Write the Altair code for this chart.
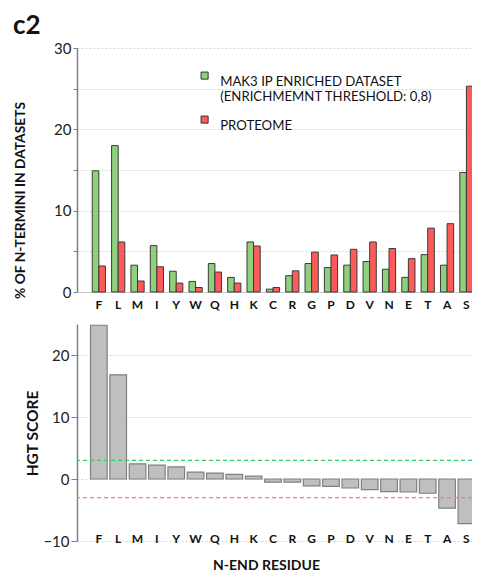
import altair as alt
import pandas as pd

residues = ["F", "L", "M", "I", "Y", "W", "Q", "H", "K", "C", "R", "G", "P", "D", "V", "N", "E", "T", "A", "S"]
mak3_pct = [14.9, 18.0, 3.3, 5.7, 2.55, 1.3, 3.5, 1.8, 6.15, 0.35, 2.0, 3.5, 3.0, 3.3, 3.75, 2.8, 1.8, 4.6, 3.3, 14.7]
proteome_pct = [3.2, 6.15, 1.35, 3.1, 1.1, 0.55, 2.45, 1.1, 5.65, 0.55, 2.6, 4.9, 4.55, 5.25, 6.15, 5.35, 4.1, 7.85, 8.4, 25.3]
hgt_score = [24.8, 16.8, 2.45, 2.25, 1.95, 1.1, 0.95, 0.75, 0.45, -0.5, -0.5, -1.1, -1.2, -1.45, -1.7, -2.05, -2.1, -2.3, -4.7, -7.2]
thresholds = [3, -3]
threshold_colors = ["#2ecc71", "#ff7a7a"]
series = ["Mak3", "Proteome"]
series_colors = ["#8fd07c", "#ff5a5a"]

FONT = "Lato"

df_top = pd.DataFrame({
    "Residue": residues * 2,
    "Dataset": [series[0]] * len(residues) + [series[1]] * len(residues),
    "Value": mak3_pct + proteome_pct,
})
df_bot = pd.DataFrame({"Residue": residues, "HGT": hgt_score})
df_thr = pd.DataFrame({"t": thresholds, "c": threshold_colors})

W = 402

def xscale():
    return alt.Scale(paddingInner=0.14, paddingOuter=0.46, align=0.76)

grid_kw = dict(grid=True, gridColor="#d5d5d5", gridDash=[2, 2], gridWidth=1,
               domainColor="#808080", domainWidth=1.5, tickColor="#808080",
               labelFont=FONT, labelFontSize=15, labelColor="#222222",
               titleFont=FONT, titleFontWeight="bold", titleColor="#111111")

top = alt.Chart(df_top).mark_bar(stroke="#3a3a3a", strokeWidth=1).encode(
    x=alt.X("Residue:N", sort=residues, scale=xscale(),
            axis=alt.Axis(title=None, labelAngle=0, ticks=False, tickSize=0, domain=True,
                          domainColor="#c8c8c8", labelPadding=7, labelFont=FONT,
                          labelFontWeight="bold", labelFontSize=12, labelColor="#111111",
                          labelBaseline="top", grid=False)),
    xOffset=alt.XOffset("Dataset:N", sort=series, scale=alt.Scale(paddingOuter=0.26, paddingInner=0)),
    y=alt.Y("Value:Q", scale=alt.Scale(domain=[0, 30], nice=False),
            axis=alt.Axis(values=list(range(0, 31, 5)),
                          labelExpr="datum.value % 10 == 0 ? datum.label : ''",
                          title="% OF N-TERMINI IN DATASETS", titleX=-57, titleY=152,
                          titleFontSize=13.8,
                          titleBaseline="middle", tickSize=4, labelPadding=2, **grid_kw)),
    color=alt.Color("Dataset:N", sort=series,
                    scale=alt.Scale(domain=series, range=series_colors),
                    legend=alt.Legend(title=None, orient="none", legendX=121, legendY=21,
                                      symbolType="square", symbolSize=50,
                                      symbolStrokeColor="#333333", symbolStrokeWidth=1,
                                      labelFont=FONT, labelFontSize=13.2, labelColor="#111111",
                                      labelBaseline="top", labelOffset=9, labelLimit=0,
                                      rowPadding=10,
                                      labelExpr="datum.label == 'Mak3' ? ['MAK3 IP ENRICHED DATASET', '(ENRICHMEMNT THRESHOLD: 0,8)'] : 'PROTEOME'")),
).properties(width=W, height=244)

bars = alt.Chart(df_bot).mark_bar(fill="#bfbfbf", stroke="#808080", strokeWidth=1.2).encode(
    x=alt.X("Residue:N", sort=residues, scale=xscale(),
            axis=alt.Axis(title="N-END RESIDUE", labelAngle=0, ticks=False, tickSize=0, domain=False,
                          labelPadding=-3, labelBaseline="middle", labelFont=FONT,
                          labelFontWeight="bold", labelFontSize=12, labelColor="#111111",
                          titleFont=FONT, titleFontSize=14, titleFontWeight="bold",
                          titleColor="#111111", titleX=189, titleY=24, titleBaseline="middle",
                          grid=False)),
    y=alt.Y("HGT:Q", scale=alt.Scale(domain=[-10, 25], nice=False),
            axis=alt.Axis(values=list(range(-10, 26, 5)),
                          labelExpr="datum.value % 10 == 0 ? datum.label : ''",
                          title="HGT SCORE", titleX=-45, titleY=109, titleBaseline="middle",
                          titleFontSize=15.5,
                          tickSize=6, labelPadding=2, **grid_kw)),
)

rules = alt.Chart(df_thr).mark_rule(strokeDash=[4, 3], strokeWidth=1.4).encode(
    y=alt.Y("t:Q"),
    color=alt.Color("c:N", scale=None),
)

bottom = alt.layer(bars, rules).properties(width=W, height=217)

chart = alt.vconcat(top, bottom, spacing=14).properties(
    title=alt.Title("c2", anchor="start", fontSize=26, fontWeight="bold", font=FONT,
                    color="#111111", offset=2),
    padding={"left": 5, "top": 5, "right": -8, "bottom": 0},
).configure_view(stroke=None)

chart.save("out.html", embed_options={"renderer": "svg", "actions": False})
